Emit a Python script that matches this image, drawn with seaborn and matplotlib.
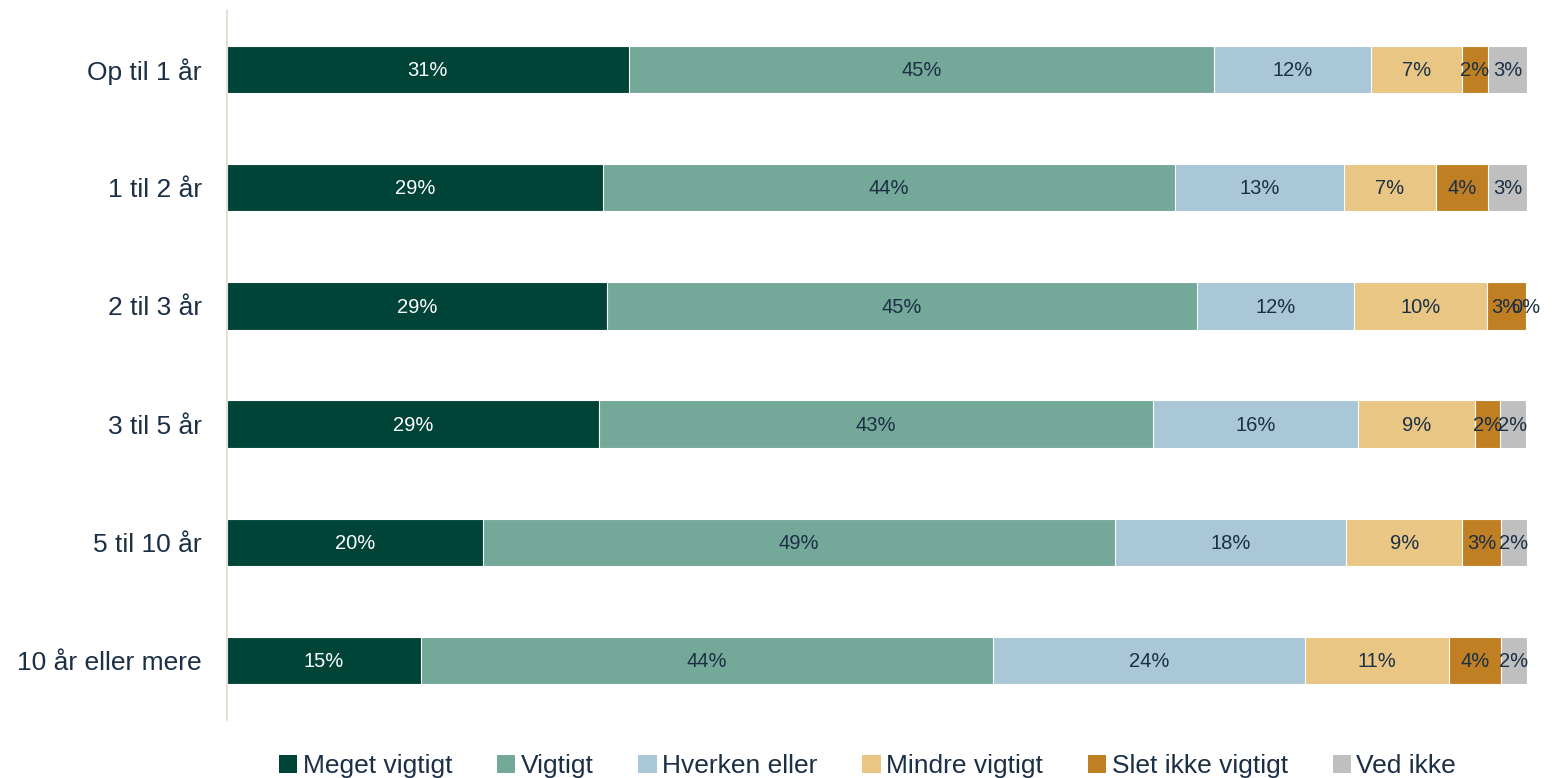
import matplotlib
matplotlib.use("Agg")
import matplotlib.pyplot as plt
import seaborn as sns
import pandas as pd
import numpy as np
from matplotlib.patches import Patch

categories = ["Op til 1 år", "1 til 2 år", "2 til 3 år", "3 til 5 år", "5 til 10 år", "10 år eller mere"]
series = ["Meget vigtigt", "Vigtigt", "Hverken eller", "Mindre vigtigt", "Slet ikke vigtigt", "Ved ikke"]
meget_vigtigt = [30.9, 28.9, 29.2, 28.6, 19.7, 14.9]
vigtigt = [45.0, 44.0, 45.4, 42.6, 48.6, 44.0]
hverken_eller = [12.1, 13.0, 12.1, 15.8, 17.8, 24.0]
mindre_vigtigt = [7.0, 7.1, 10.2, 9.0, 8.9, 11.1]
slet_ikke = [2.0, 4.0, 3.0, 1.9, 3.0, 4.0]
ved_ikke = [3.0, 3.0, 0.0, 2.0, 2.0, 2.0]

colors = ["#004438", "#74A899", "#A9C7D7", "#E9C684", "#C07F23", "#BFBFBF"]
text_dark = "#1B2F45"

sns.set_theme(style="white")
plt.rcParams["font.family"] = ["Liberation Sans", "DejaVu Sans"]

df = pd.DataFrame({"cat": categories})
vals = [meget_vigtigt, vigtigt, hverken_eller, mindre_vigtigt, slet_ikke, ved_ikke]
for s, v in zip(series, vals):
    df[s] = v
cum = df[series].cumsum(axis=1)

fig = plt.figure(figsize=(15.63, 7.78), dpi=100)
ax = fig.add_axes([0.1452, 0.0746, 0.8318, 0.9125])

# draw cumulative bars from the rightmost (largest) to leftmost
for i in range(len(series) - 1, -1, -1):
    sns.barplot(x=cum[series[i]], y=df["cat"], color=colors[i], orient="h",
                width=0.4, ax=ax, edgecolor="white", linewidth=0.8, saturation=1)

# labels
for i, s in enumerate(series):
    for j in range(len(categories)):
        v = df[s].iloc[j]
        center = cum[s].iloc[j] - v / 2
        ax.text(center, j + 0.01, f"{round(v):.0f}%", ha="center", va="center",
                fontsize=14.5, color="white" if i == 0 else text_dark)

ax.set_xlim(0, 100)
ax.set_ylim(5.5, -0.5)
ax.set_xlabel("")
ax.set_ylabel("")
ax.set_xticks([])
ax.tick_params(axis="y", labelsize=19, colors=text_dark, length=0, pad=18)
for sp in ["top", "right", "bottom"]:
    ax.spines[sp].set_visible(False)
ax.spines["left"].set_color("#E2DACD")
ax.spines["left"].set_linewidth(1.2)

handles = [Patch(facecolor=c, edgecolor="none") for c in colors]
fig.legend(handles, series, loc="center", bbox_to_anchor=(0.555, 0.015), ncol=6,
           frameon=False, fontsize=19, handlelength=0.7, handleheight=0.7,
           handletextpad=0.2, columnspacing=1.7, labelcolor=text_dark)

fig.savefig("out.png", dpi=100, facecolor="white")
